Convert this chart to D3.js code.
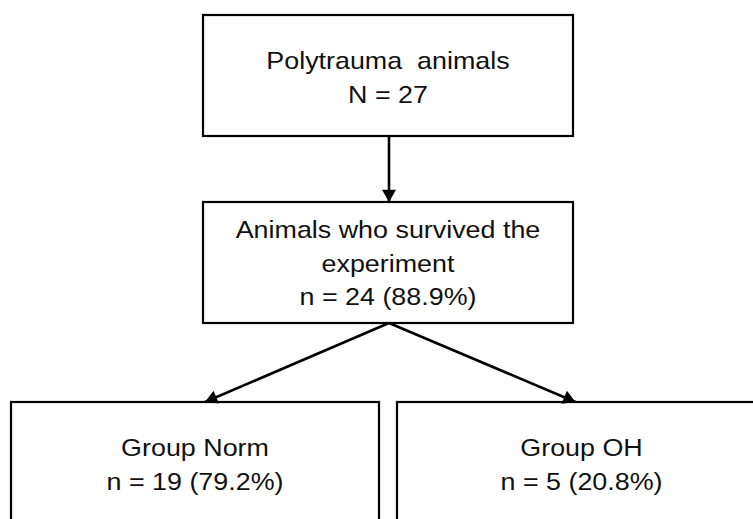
<!DOCTYPE html>
<html>
<head>
<meta charset="utf-8">
<script src="https://cdn.jsdelivr.net/npm/d3@7"></script>
<style>
  html, body { margin: 0; padding: 0; background: #fff; }
  svg { display: block; }
  .box { fill: #fff; stroke: #000; stroke-width: 2.2; }
  .label { font-family: "Liberation Sans", Arial, sans-serif; font-size: 24px; fill: #111; }
  .link { stroke: #000; stroke-width: 2.6; fill: none; }
</style>
</head>
<body>
<svg id="chart" width="753" height="519"></svg>
<script>
// ─── Data ────────────────────────────────────────────────────────────────
const nodeIds = ["all", "survived", "norm", "oh"];
const nodeLines = [
  ["Polytrauma  animals", "N = 27"],
  ["Animals who survived the", "experiment", "n = 24 (88.9%)"],
  ["Group Norm", "n = 19 (79.2%)"],
  ["Group OH", "n = 5 (20.8%)"],
];
const links = [
  ["all", "survived"],
  ["survived", "norm"],
  ["survived", "oh"],
];

// ─── Layout (pixel boxes, kept apart from the data) ──────────────────────
const layout = {
  all:      { x0: 203, x1: 573, y0: 15,  y1: 136, base: 69 },
  survived: { x0: 203, x1: 573, y0: 202, y1: 323, base: 238 },
  norm:     { x0: 11,  x1: 379, y0: 402, y1: 560, base: 456 },
  oh:       { x0: 397, x1: 766, y0: 402, y1: 560, base: 456 },
};
const lineGap = 33.5;
const stretch = 1.12;   // source text is a little wide for its height

const svg = d3.select("#chart");

const defs = svg.append("defs");
defs.append("marker")
  .attr("id", "head")
  .attr("viewBox", "0 0 14 16")
  .attr("refX", 14).attr("refY", 8)
  .attr("markerWidth", 16).attr("markerHeight", 14)
  .attr("markerUnits", "userSpaceOnUse")
  .attr("orient", "auto")
  .append("path")
  .attr("d", "M0,0L14,8L0,16Z")
  .attr("fill", "#000");

const nodes = nodeIds.map((id, i) => ({ id, lines: nodeLines[i], ...layout[id] }));
const byId = new Map(nodes.map(d => [d.id, d]));

// boxes
const g = svg.selectAll(".node")
  .data(nodes)
  .join("g")
  .attr("class", "node");

g.append("rect")
  .attr("class", "box")
  .attr("x", d => d.x0).attr("y", d => d.y0)
  .attr("width", d => d.x1 - d.x0)
  .attr("height", d => d.y1 - d.y0);

g.each(function (d) {
  const cx = (d.x0 + d.x1) / 2;
  d3.select(this).selectAll("text")
    .data(d.lines)
    .join("text")
    .attr("class", "label")
    .attr("text-anchor", "middle")
    .attr("xml:space", "preserve")
    .attr("transform", (t, i) => `translate(${cx},${d.base + i * lineGap}) scale(${stretch},1)`)
    .text(t => t);
});

// arrows: from bottom centre of source to top of target
const cxOf = d => (d.x0 + d.x1) / 2;
svg.selectAll(".link")
  .data(links)
  .join("line")
  .attr("class", "link")
  .attr("x1", ([s]) => cxOf(byId.get(s)) + 1)
  .attr("y1", ([s]) => byId.get(s).y1)
  .attr("x2", ([s, t]) => {
    const src = byId.get(s), tgt = byId.get(t);
    if (src.x0 === tgt.x0 && src.x1 === tgt.x1) return cxOf(tgt) + 1;
    return cxOf(tgt) + (cxOf(tgt) < cxOf(src) ? 10 : -6);
  })
  .attr("y2", ([, t]) => byId.get(t).y0)
  .attr("marker-end", "url(#head)");
</script>
</body>
</html>
